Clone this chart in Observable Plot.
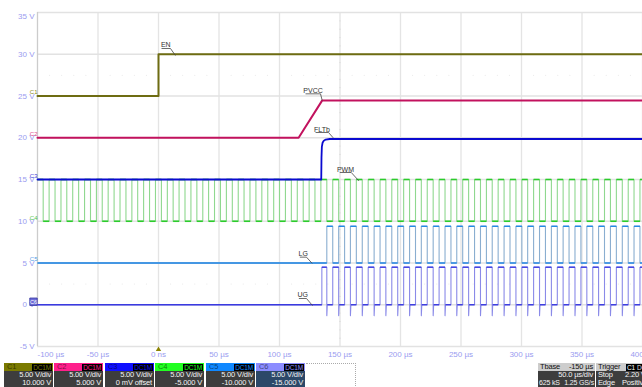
<!DOCTYPE html>
<html><head><meta charset="utf-8">
<script src="https://cdn.jsdelivr.net/npm/d3@7"></script>
<script src="https://cdn.jsdelivr.net/npm/@observablehq/plot@0.6"></script>
<style>
body{margin:0;background:#fff;font-family:"Liberation Sans",Arial,sans-serif;}
#wrap{position:relative;width:642px;height:387px;overflow:hidden;background:#fff;}
#chart{position:absolute;left:0;top:0;}
.bx{position:absolute;top:363px;height:24px;font-size:7.5px;line-height:8px;letter-spacing:-0.15px;overflow:hidden;}
.hd{position:absolute;left:0;right:0;top:0;height:8px;}
.bd{position:absolute;left:0;right:0;top:8px;height:16px;background:#3d3d3d;color:#f4f4f4;}
.sp{position:absolute;white-space:nowrap;}
</style></head><body><div id="wrap"><div id="chart"></div></div>
<script>
// ---------- data (µs, V) ----------
const xTicks = [-100, -50, 0, 50, 100, 150, 200, 250, 300, 350, 400];
const xTickLabels = ["-100 µs", "-50 µs", "0 ns", "50 µs", "100 µs", "150 µs", "200 µs", "250 µs", "300 µs", "350 µs", "400 µs"];
const yTicks = [35, 30, 25, 20, 15, 10, 5, 0, -5];
const yTickLabels = ["35 V", "30 V", "25 V", "20 V", "15 V", "10 V", "5 V", "0 V", "-5 V"];

// EN (C1)
const enT = [-100, 0, 0, 400];
const enV = [25, 25, 30, 30];
// PVCC (C2)
const pvccT = [-100, 115.8, 135.2, 400];
const pvccV = [20, 20, 24.45, 24.45];
// FLTb (C3)
const fltT = [-100, 134.5, 134.7, 135.0, 135.6, 136.6, 138.2, 141.5, 400];
const fltV = [15, 15, 17.6, 18.9, 19.4, 19.65, 19.78, 19.85, 19.85];
// PWM (C4): falling-edge times
const pwmFallT = [-95.3, -85.5, -75.8, -66.0, -56.2, -46.5, -36.7, -26.9, -17.2, -7.4,
  2.4, 12.1, 21.9, 31.7, 41.4, 51.2, 61.0, 70.7, 80.5, 90.3,
  100.0, 109.8, 119.6, 129.3, 139.1, 148.9, 158.6, 168.4, 178.2, 187.9,
  197.7, 207.5, 217.2, 227.0, 236.8, 246.5, 256.3, 266.1, 275.8, 285.6,
  295.4, 305.1, 314.9, 324.7, 334.4, 344.2, 354.0, 363.7, 373.5, 383.3, 393.0];
const pwmLowWidth = 4.9;
const pwmLevels = [10, 15];
// LG (C5) / UG (C6)
const gateStartT = 135.0;
const lgLevels = [5.0, 9.4];
const ugLevels = [0, 4.5];
const ugSpikeV = -1.3;

// annotations
const annotText = ["EN", "PVCC", "FLTb", "PWM", "LG", "UG"];
const annotT = [6.0, 127.7, 135.1, 154.5, 119.6, 119.2];
const annotV = [31.17, 25.66, 20.99, 16.2, 6.06, 1.14];
const annotUnderT1 = [2.5, 121.5, 129.8, 149.8, 116.8, 116.0];
const annotUnderT2 = [9.9, 133.9, 140.5, 159.3, 122.3, 122.3];
const annotUnderV = [30.69, 25.26, 20.63, 15.84, 5.7, 0.75];
const annotEndT = [14.0, 135.3, 144.4, 165.5, 127.0, 127.3];
const annotEndV = [29.85, 24.46, 19.99, 14.85, 4.95, -0.1];

// channel markers on the left edge
const chanNames = ["C1", "C2", "C3", "C4", "C5", "C6"];
const chanLevels = [25, 20, 15, 10, 5, 0];
const chanColors = ["#8a8820", "#e0408a", "#4040d8", "#50c850", "#50a0e8", "#6a6ad8"];

// graticule minor marks
const minorCenterV = [34,33,32,31,29,28,27,26,24,23,22,21,19,18,17,16,14,13,12,11,9,8,7,6,4,3,2,1,-1,-2,-3,-4];
const minorRowV = [27.5, 2.5];
const minorRowT = [-90,-80,-70,-60,-40,-30,-20,-10,10,20,30,40,60,70,80,90,110,120,130,140,160,170,180,190,210,220,230,240,260,270,280,290,310,320,330,340,360,370,380,390];

// ---------- build tables ----------
const ser = (ts, vs) => ts.map((t, i) => ({t, v: vs[i]}));
const en = ser(enT, enV), pvcc = ser(pvccT, pvccV), flt = ser(fltT, fltV);

const pwm = [{t: -100, v: pwmLevels[1]}];
for (const f of pwmFallT) {
  pwm.push({t: f, v: pwmLevels[1]}, {t: f, v: pwmLevels[0]}, {t: f + pwmLowWidth, v: pwmLevels[0]}, {t: f + pwmLowWidth, v: pwmLevels[1]});
}
pwm.push({t: 400, v: pwmLevels[1]});

const lg = [{t: -100, v: lgLevels[0]}];
const ug = [{t: -100, v: ugLevels[0]}, {t: gateStartT, v: ugLevels[0]}, {t: gateStartT, v: ugLevels[1]}];
for (const f of pwmFallT.filter(f => f > gateStartT)) {
  lg.push({t: f, v: lgLevels[0]}, {t: f, v: lgLevels[1]}, {t: f + pwmLowWidth, v: lgLevels[1]}, {t: f + pwmLowWidth, v: lgLevels[0]});
  ug.push({t: f, v: ugLevels[1]}, {t: f, v: ugSpikeV}, {t: f + 0.4, v: ugLevels[0]}, {t: f + pwmLowWidth, v: ugLevels[0]}, {t: f + pwmLowWidth, v: ugLevels[1]});
}
lg.push({t: 400, v: lgLevels[0]});
ug.push({t: 400, v: ugLevels[1]});

const hsegs = pts => {
  const out = [];
  for (let i = 1; i < pts.length; i++) if (pts[i].v === pts[i-1].v && pts[i].t > pts[i-1].t) out.push({t1: pts[i-1].t, t2: pts[i].t, v: pts[i].v});
  return out;
};

const ann = annotText.map((s, i) => ({s, t: annotT[i], v: annotV[i], u1: annotUnderT1[i], u2: annotUnderT2[i], uv: annotUnderV[i], et: annotEndT[i], ev: annotEndV[i]}));
const chans = chanNames.map((n, i) => ({n, v: chanLevels[i], c: chanColors[i]}));
const yt = yTicks.map((v, i) => ({v, s: yTickLabels[i]}));
const xt = xTicks.map((t, i) => ({t, s: xTickLabels[i]}));
const minorRow = minorRowV.flatMap(v => minorRowT.map(t => ({t, v})));

const tickColor = "#9a9cf0";
const font = "Liberation Sans, Arial, sans-serif";

const chart = Plot.plot({
  width: 642, height: 360,
  marginLeft: 37, marginRight: 0, marginTop: 12, marginBottom: 14,
  x: {domain: [-100, 400], axis: null},
  y: {domain: [-5, 35], axis: null},
  style: {fontFamily: font, background: "transparent", overflow: "visible"},
  marks: [
    Plot.ruleX(xTicks.slice(1), {stroke: "#e4e4e4", strokeWidth: 1.3}),
    Plot.ruleY(yTicks, {stroke: "#e2e2e2", strokeWidth: 1.3}),
    Plot.ruleX([xTicks[0]], {stroke: "#cccccc", strokeWidth: 1.3}),
    Plot.dot(minorCenterV, {x: 150, y: d => d, r: 0.6, fill: "#d8d8d8", stroke: null}),
    Plot.dot(minorRow, {x: "t", y: "v", r: 0.5, fill: "#e2e2e2", stroke: null}),
    // PWM
    Plot.line(pwm, {x: "t", y: "v", stroke: "#8fd88f", strokeWidth: 1.1}),
    Plot.link(hsegs(pwm), {x1: "t1", x2: "t2", y1: "v", y2: "v", stroke: "#2ccc2c", strokeWidth: 1.6}),
    // LG
    Plot.line(lg, {x: "t", y: "v", stroke: "#8aaed0", strokeWidth: 1.1}),
    Plot.link(hsegs(lg), {x1: "t1", x2: "t2", y1: "v", y2: "v", stroke: "#1f86e6", strokeWidth: 1.4}),
    // UG
    Plot.line(ug, {x: "t", y: "v", stroke: "#8a8ae8", strokeWidth: 1.1}),
    Plot.link(hsegs(ug), {x1: "t1", x2: "t2", y1: "v", y2: "v", stroke: "#3a3ae0", strokeWidth: 1.4}),
    // FLTb, PVCC, EN
    Plot.line(flt, {x: "t", y: "v", stroke: "#0a0ad0", strokeWidth: 1.8}),
    Plot.line(pvcc, {x: "t", y: "v", stroke: "#c2125e", strokeWidth: 2}),
    Plot.line(en, {x: "t", y: "v", stroke: "#6e6c12", strokeWidth: 2}),
    // annotations
    Plot.link(ann, {x1: "u1", x2: "u2", y1: "uv", y2: "uv", stroke: "#444", strokeWidth: 0.8}),
    Plot.link(ann, {x1: "u2", x2: "et", y1: "uv", y2: "ev", stroke: "#444", strokeWidth: 0.8}),
    Plot.text(ann, {x: "t", y: "v", text: "s", fill: "#333", fontSize: 7}),
    // y tick labels
    Plot.text(yt.slice(0, 1), {x: xTicks[0], y: "v", text: "s", textAnchor: "end", dx: -3, dy: 4, fill: tickColor, fontSize: 8}),
    Plot.text(yt.slice(1), {x: xTicks[0], y: "v", text: "s", textAnchor: "end", dx: -3, fill: tickColor, fontSize: 8}),
    // x tick labels
    Plot.text(xt.slice(0, 1), {x: "t", y: yTicks[yTicks.length - 1], text: "s", textAnchor: "start", dy: 8, fill: tickColor, fontSize: 8}),
    Plot.text(xt.slice(1), {x: "t", y: yTicks[yTicks.length - 1], text: "s", dy: 8, fill: tickColor, fontSize: 8}),
    // trigger marker
    Plot.dot([0], {x: d => d, y: yTicks[yTicks.length - 1], dy: 3, symbol: "triangle", r: 2, fill: "#8a8200", stroke: null}),
    // channel markers
    Plot.dot(chans.slice(5), {x: xTicks[0], y: "v", dx: -4, dy: -3, symbol: "square", r: 4.2, fill: "#6c6cd8", stroke: "#3434a0", strokeWidth: 0.8}),
    Plot.text(chans.slice(5), {x: xTicks[0], y: "v", text: "n", dx: -4, dy: -3, fill: "#fff", fontSize: 5.5}),
    Plot.text(chans.slice(0, 5), {x: xTicks[0], y: "v", text: "n", textAnchor: "end", dx: 0, dy: -3.5, fill: "c", fontSize: 6})
  ]
});
document.getElementById("chart").appendChild(chart);

// ---------- status bar ----------
const boxes = [
  {n: "C1", c: "#7a7a00", l1: "5.00 V/div", l2: "10.000 V", x: 4},
  {n: "C2", c: "#ff1f8c", l1: "5.00 V/div", l2: "5.000 V", x: 54},
  {n: "C3", c: "#1010ff", l1: "5.00 V/div", l2: "0 mV offset", x: 105},
  {n: "C4", c: "#22ff22", l1: "5.00 V/div", l2: "-5.000 V", x: 155},
  {n: "C5", c: "#1088ff", l1: "5.00 V/div", l2: "-10.000 V", x: 206},
  {n: "C6", c: "#8c8cff", l1: "5.00 V/div", l2: "-15.000 V", x: 256}
];
const wrap = document.getElementById("wrap");
for (const b of boxes) {
  const d = document.createElement("div");
  d.className = "bx";
  d.style.left = b.x + "px";
  d.style.width = "49px";
  const bodyBg = b.n === "C6" ? "#2c4868" : "#3d3d3d";
  d.innerHTML =
    `<div class="hd" style="background:${b.c}"><span class="sp" style="left:3px;top:0;color:rgba(0,0,0,0.55)">${b.n}</span>` +
    `<span class="sp" style="right:1px;top:0.5px;height:7px;line-height:7px;padding:0 1px;background:#000;color:${b.c};font-size:6.5px">DC1M</span></div>` +
    `<div class="bd" style="background:${bodyBg}"><span class="sp" style="right:2px;top:0">${b.l1}</span><span class="sp" style="right:2px;top:8px">${b.l2}</span></div>`;
  if (b.n === "C6") d.style.boxShadow = "inset 0 0 0 1px #6a8ad0";
  wrap.appendChild(d);
}
const dotted = document.createElement("div");
dotted.style.cssText = "position:absolute;left:306px;top:363px;width:49px;height:26px;border-top:1px dotted #aaa;border-right:1px dotted #aaa;";
wrap.appendChild(dotted);

const tb = document.createElement("div");
tb.className = "bx"; tb.style.left = "538px"; tb.style.width = "57px";
tb.innerHTML = `<div class="hd" style="background:#cdcdcd;color:#111"><span class="sp" style="left:2px">Tbase</span><span class="sp" style="right:2px">-150 µs</span></div>` +
  `<div class="bd"><span class="sp" style="right:2px;top:0">50.0 µs/div</span><span class="sp" style="left:1px;top:8px;font-size:7px">625 kS</span><span class="sp" style="right:1px;top:8px;font-size:7px">1.25 GS/s</span></div>`;
wrap.appendChild(tb);

const tr = document.createElement("div");
tr.className = "bx"; tr.style.left = "596px"; tr.style.width = "60px";
tr.innerHTML = `<div class="hd" style="background:#cdcdcd;color:#111"><span class="sp" style="left:2px">Trigger</span>` +
  `<span class="sp" style="left:30px;top:0.5px;height:7px;line-height:7px;background:#000;color:#fff;padding:0 1px;font-size:6.5px">C1</span>` +
  `<span class="sp" style="left:40px;top:0.5px;height:7px;line-height:7px;background:#000;color:#ddd;padding:0 1px;font-size:6.5px">DC</span></div>` +
  `<div class="bd"><span class="sp" style="left:2px;top:0">Stop</span><span class="sp" style="left:29px;top:0">2.20 V</span>` +
  `<span class="sp" style="left:2px;top:8px">Edge</span><span class="sp" style="left:26px;top:8px">Positive</span></div>`;
wrap.appendChild(tr);
</script></body></html>
